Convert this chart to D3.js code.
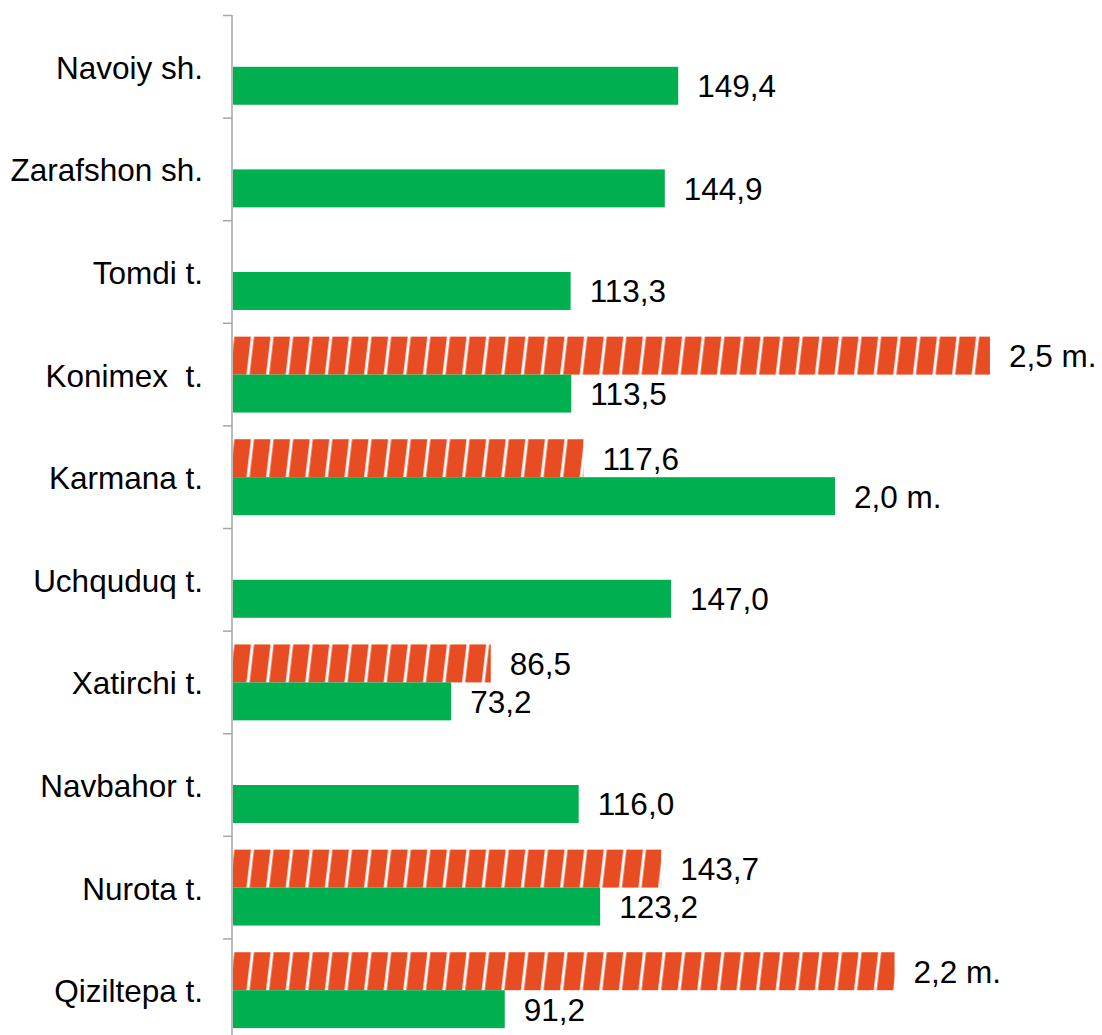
<!DOCTYPE html>
<html>
<head>
<meta charset="utf-8">
<script src="https://cdn.jsdelivr.net/npm/d3@7"></script>
<style>
  html, body { margin: 0; padding: 0; background: #fff; }
  svg { display: block; }
  text { font-family: "Liberation Sans", Arial, sans-serif; fill: #000; white-space: pre; }
</style>
</head>
<body>
<script>
const categories = ["Navoiy sh.", "Zarafshon sh.", "Tomdi t.", "Konimex  t.", "Karmana t.", "Uchquduq t.", "Xatirchi t.", "Navbahor t.", "Nurota t.", "Qiziltepa t."];
const redValues = [null, null, null, 254, 117.6, null, 86.5, null, 143.7, 222];
const redLabels = ["", "", "", "2,5 m.", "117,6", "", "86,5", "", "143,7", "2,2 m."];
const greenValues = [149.4, 144.9, 113.3, 113.5, 202, 147.0, 73.2, 116.0, 123.2, 91.2];
const greenLabels = ["149,4", "144,9", "113,3", "113,5", "2,0 m.", "147,0", "73,2", "116,0", "123,2", "91,2"];
const seriesKeys = ["red", "green"];

const W = 1102, H = 1035;
const svg = d3.select("body").append("svg").attr("width", W).attr("height", H);

const defs = svg.append("defs");
const pat = defs.append("pattern")
  .attr("id", "hatch")
  .attr("patternUnits", "userSpaceOnUse")
  .attr("width", 19.6).attr("height", 10)
  .attr("patternTransform", "translate(236,0) skewX(-6.7)");
pat.append("rect").attr("width", 19.6).attr("height", 10).attr("fill", "#E84C22");
pat.append("rect").attr("x", 15).attr("width", 3).attr("height", 10).attr("fill", "#fff");

const axisX = 232;
const x = d3.scaleLinear().domain([0, 300]).range([axisX + 1, axisX + 1 + 894]);
const y = d3.scaleBand().domain(categories).range([15.5, 1041.5]).paddingInner(0.26).paddingOuter(0.13);
const ySub = d3.scaleBand().domain(seriesKeys).range([0, y.bandwidth()]);

const rows = categories.map((c, i) => ({
  cat: c,
  bars: [
    { key: "red", v: redValues[i], label: redLabels[i] },
    { key: "green", v: greenValues[i], label: greenLabels[i] }
  ]
}));

const g = svg.append("g").selectAll("g").data(rows).join("g")
  .attr("transform", d => `translate(0,${y(d.cat)})`);

const bars = g.selectAll("g.bar").data(d => d.bars.filter(b => b.v != null)).join("g").attr("class", "bar");
bars.append("rect")
  .attr("x", x(0))
  .attr("y", b => ySub(b.key))
  .attr("width", b => x(b.v) - x(0))
  .attr("height", ySub.bandwidth())
  .attr("fill", b => b.key === "red" ? "url(#hatch)" : "#00AF50");
bars.append("text")
  .attr("x", b => x(b.v) + 19)
  .attr("y", b => ySub(b.key) + ySub.bandwidth() / 2 + 3)
  .attr("dominant-baseline", "middle")
  .attr("font-size", 31.5)
  .text(b => b.label);

// axis
const axis = d3.axisLeft(y).tickSize(0).tickPadding(29);
const ax = svg.append("g").attr("transform", `translate(${axisX},0)`).call(axis);
ax.select(".domain").remove();
ax.selectAll("text").attr("font-size", 31.5).attr("fill", "#000").attr("dy", "0.35em").attr("y", 1);

svg.append("line").attr("x1", axisX).attr("x2", axisX).attr("y1", 15).attr("y2", H)
  .attr("stroke", "#A6A6A6").attr("stroke-width", 1.5);
const boundaries = categories.map(c => y(c) - y.step() * y.paddingInner() / 2);
boundaries.push(y.range()[1]);
svg.append("g").selectAll("line").data(boundaries).join("line")
  .attr("x1", axisX - 9).attr("x2", axisX)
  .attr("y1", d => d).attr("y2", d => d)
  .attr("stroke", "#A6A6A6").attr("stroke-width", 1.5);
</script>
</body>
</html>
